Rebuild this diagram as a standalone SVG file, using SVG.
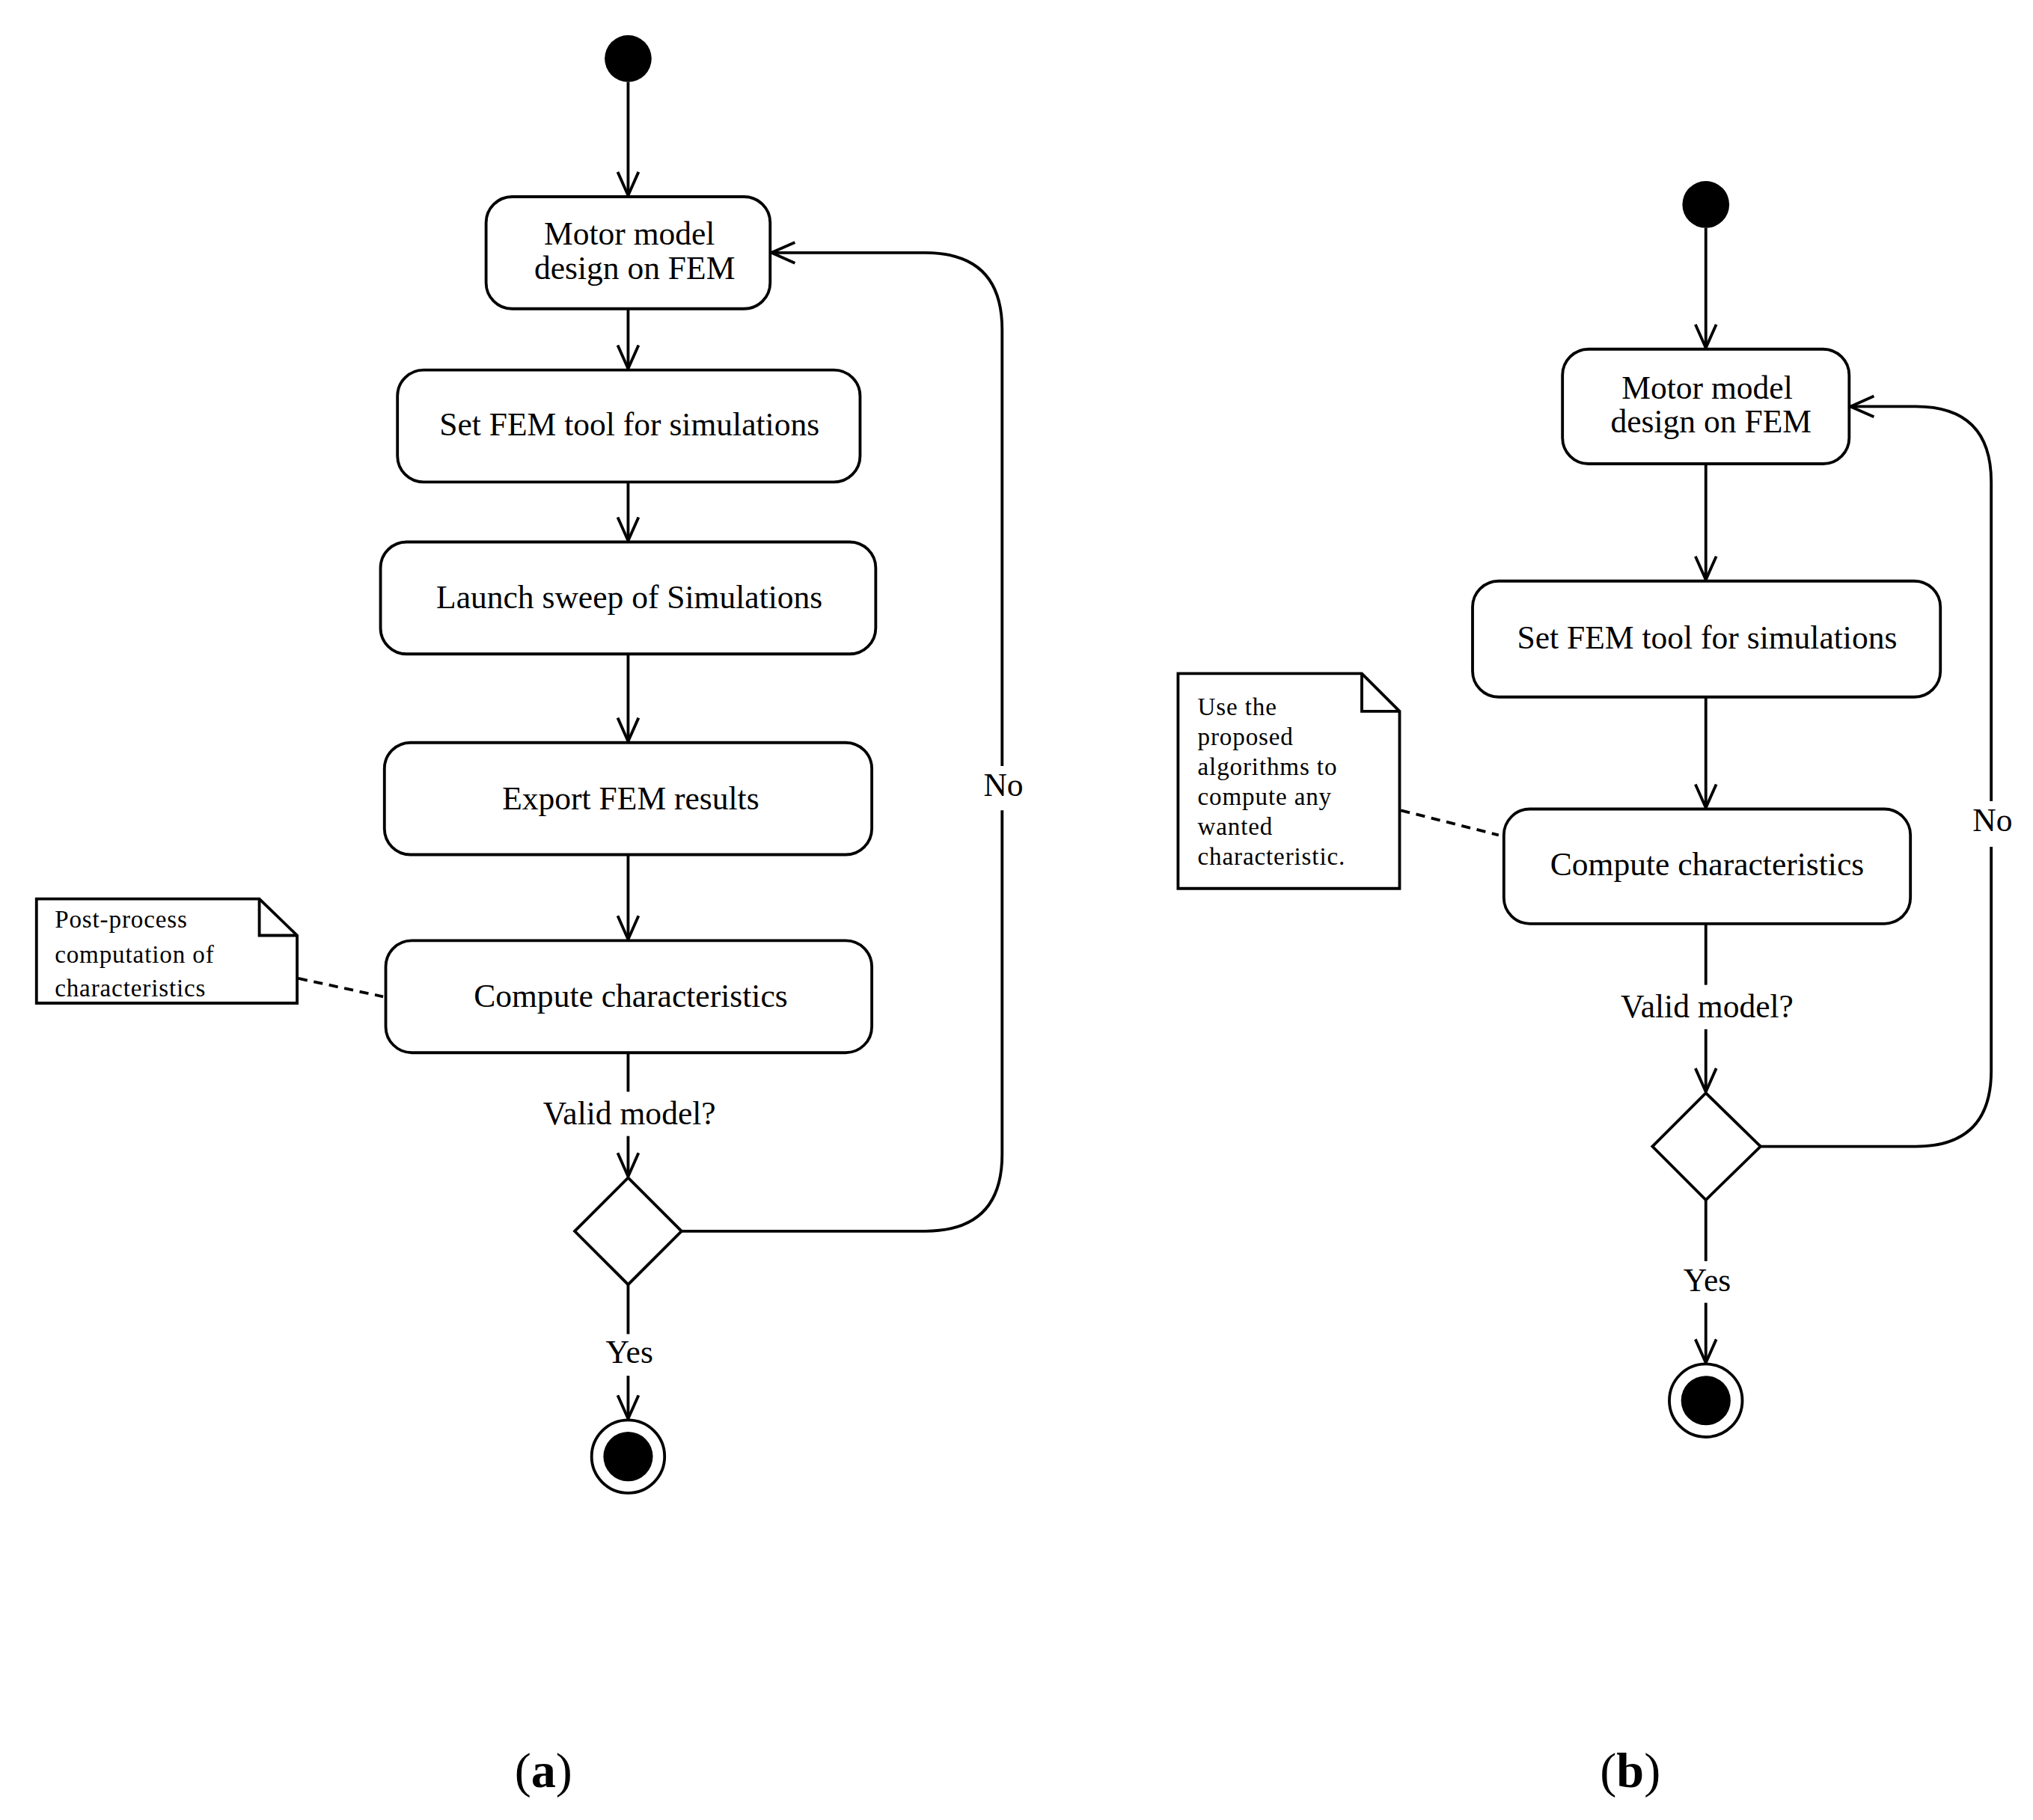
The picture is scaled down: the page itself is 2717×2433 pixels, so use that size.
<svg xmlns="http://www.w3.org/2000/svg" width="2717" height="2433" viewBox="0 0 2717 2433">
<style>
.b{fill:#fff;stroke:#000;stroke-width:2.2}
.l{fill:none;stroke:#000;stroke-width:2.2}
.d{fill:none;stroke:#000;stroke-width:2.2;stroke-dasharray:7,5}
text{font-family:"Liberation Serif","DejaVu Serif",serif;fill:#000}
.t{font-size:25px;text-anchor:middle}
.n{font-size:19px;letter-spacing:0.5px}
.c{font-size:38px;text-anchor:middle}
</style>
<defs>
<marker id="a" markerWidth="24" markerHeight="24" refX="20" refY="12" orient="auto" markerUnits="userSpaceOnUse">
<path d="M2,4 L20,12 L2,20" fill="none" stroke="#000" stroke-width="2.2"/>
</marker>
</defs>
<rect width="2717" height="2433" fill="#fff"/>
<g transform="scale(1.7416)">
<g id="connectors">
<path class="l" d="M482,63 V150" marker-end="url(#a)"/>
<path class="l" d="M482,237 V283" marker-end="url(#a)"/>
<path class="l" d="M482,370 V415" marker-end="url(#a)"/>
<path class="l" d="M482,502 V569" marker-end="url(#a)"/>
<path class="l" d="M482,656 V721" marker-end="url(#a)"/>
<path class="l" d="M482,808 V838"/>
<path class="l" d="M482,872 V903" marker-end="url(#a)"/>
<path class="l" d="M523,945 H710 Q769,945 769,886 V622"/>
<path class="l" d="M769,588 V253 Q769,194 710,194 H592" marker-end="url(#a)"/>
<path class="l" d="M482,986 V1024"/>
<path class="l" d="M482,1056 V1089" marker-end="url(#a)"/>
<path class="d" d="M229,751 L294,765"/>
<path class="l" d="M1309,175 V267" marker-end="url(#a)"/>
<path class="l" d="M1309,356 V445" marker-end="url(#a)"/>
<path class="l" d="M1309,535 V620" marker-end="url(#a)"/>
<path class="l" d="M1309,709 V756"/>
<path class="l" d="M1309,790 V838" marker-end="url(#a)"/>
<path class="l" d="M1351,880 H1470 Q1528,880 1528,822 V650"/>
<path class="l" d="M1528,615 V370 Q1528,312 1470,312 H1420" marker-end="url(#a)"/>
<path class="l" d="M1309,921 V968"/>
<path class="l" d="M1309,1000 V1046" marker-end="url(#a)"/>
<path class="d" d="M1075,622 L1150,641"/>
<text class="t" x="483" y="863">Valid model?</text>
<text class="t" x="770" y="611">No</text>
<text class="t" x="483" y="1046">Yes</text>
<text class="t" x="1310" y="781">Valid model?</text>
<text class="t" x="1529" y="638">No</text>
<text class="t" x="1310" y="991">Yes</text>
</g>
<g id="start-a"><circle cx="482" cy="45" r="18"/></g>
<g id="a1"><rect class="b" x="373" y="151" width="218" height="86" rx="20"/><text class="t" x="483" y="188">Motor model</text><text class="t" x="487" y="214">design on FEM</text></g>
<g id="a2"><rect class="b" x="305" y="284" width="355" height="86" rx="20"/><text class="t" x="483" y="334">Set FEM tool for simulations</text></g>
<g id="a3"><rect class="b" x="292" y="416" width="380" height="86" rx="20"/><text class="t" x="483" y="467">Launch sweep of Simulations</text></g>
<g id="a4"><rect class="b" x="295" y="570" width="374" height="86" rx="20"/><text class="t" x="484" y="621">Export FEM results</text></g>
<g id="a5"><rect class="b" x="296" y="722" width="373" height="86" rx="20"/><text class="t" x="484" y="773">Compute characteristics</text></g>
<g id="note-a"><path class="b" d="M28,690 H199 L228,718 V770 H28 Z"/><path class="l" d="M199,690 V718 H228"/><text class="n" x="42" y="712">Post-process</text><text class="n" x="42" y="739">computation of</text><text class="n" x="42" y="765">characteristics</text></g>
<g id="dec-a"><path class="b" d="M482,904 L523,945 L482,986 L441,945 Z"/></g>
<g id="end-a"><circle class="b" cx="482" cy="1118" r="28"/><circle cx="482" cy="1118" r="19"/></g>
<g id="start-b"><circle cx="1309" cy="157" r="18"/></g>
<g id="b1"><rect class="b" x="1199" y="268" width="220" height="88" rx="20"/><text class="t" x="1310" y="306">Motor model</text><text class="t" x="1313" y="332">design on FEM</text></g>
<g id="b2"><rect class="b" x="1130" y="446" width="359" height="89" rx="20"/><text class="t" x="1310" y="498">Set FEM tool for simulations</text></g>
<g id="b3"><rect class="b" x="1154" y="621" width="312" height="88" rx="20"/><text class="t" x="1310" y="672">Compute characteristics</text></g>
<g id="note-b"><path class="b" d="M904,517 H1045 L1074,546 V682 H904 Z"/><path class="l" d="M1045,517 V546 H1074"/><text class="n" x="919" y="549">Use the</text><text class="n" x="919" y="572">proposed</text><text class="n" x="919" y="595">algorithms to</text><text class="n" x="919" y="618">compute any</text><text class="n" x="919" y="641">wanted</text><text class="n" x="919" y="664">characteristic.</text></g>
<g id="dec-b"><path class="b" d="M1309,839 L1351,880 L1309,921 L1268,880 Z"/></g>
<g id="end-b"><circle class="b" cx="1309" cy="1075" r="28"/><circle cx="1309" cy="1075" r="19"/></g>
<text class="c" x="417" y="1372">(<tspan font-weight="bold">a</tspan>)</text>
<text class="c" x="1251" y="1372">(<tspan font-weight="bold">b</tspan>)</text>
</g>
</svg>
